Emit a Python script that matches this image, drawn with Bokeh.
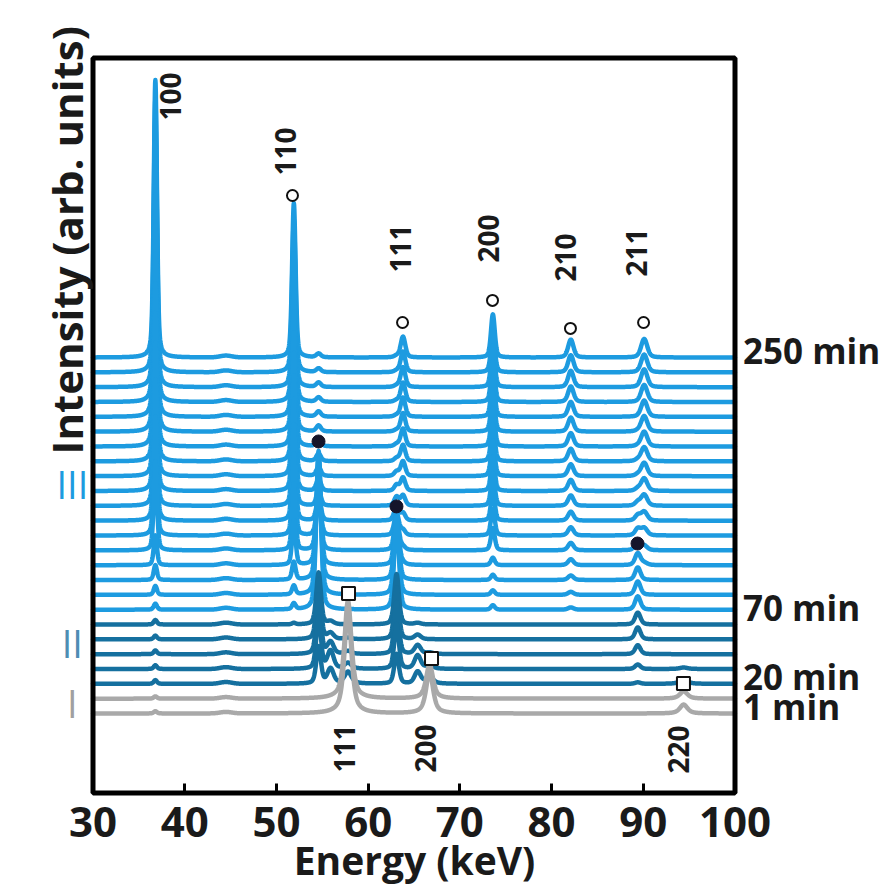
import numpy as np
from bokeh.plotting import figure
from bokeh.models import Range1d, FixedTicker, Label
from bokeh.core.properties import value
from bokeh.embed import file_html
from bokeh.resources import INLINE

FONT = "Open Sans"

# ------------------------------------------------------------------ data
x_ticks = [30, 40, 50, 60, 70, 80, 90, 100]
energy_lim = [30.0, 100.0]          # framed energy window (keV)
offset_lim = [-5.36, 44.19]         # framed intensity window (trace offsets)

# 25 spectra, index 0 = 1 min (bottom) ... 24 = 250 min (top); offset = index
trace_phase = ["I", "I", "II", "II", "II", "II", "II"] + ["III"] * 18
phase_colour = {"I": "#A9A9A9", "II": "#15709F", "III": "#1D9BE0"}

time_label_text = ["250 min", "70 min", "20 min", "1 min"]
time_label_y = [24.45, 7.15, 2.50, 0.45]

phase_label_text = ["III", "II", "I"]
phase_label_y = [15.50, 4.72, 0.74]
phase_label_colour = ["#1D9BE0", "#4E8DB3", "#A0A0A0"]

# peak centres (keV), widths (FWHM, keV), Lorentzian fraction
peak_centre = [36.8, 51.9, 63.8, 73.6, 82.1, 90.1,   # phase III (open circles)
               54.6, 63.1, 89.4,                      # phase II (filled circles)
               57.8, 66.7, 94.4,                      # phase I (squares)
               55.9, 65.4, 44.5]                      # shoulders / weak bump
peak_fwhm = [0.42, 0.45, 0.60, 0.50, 0.70, 0.80,
             0.60, 0.60, 0.70,
             0.90, 0.90, 1.00,
             0.80, 0.80, 1.50]
peak_eta = [0.4, 0.4, 0.4, 0.4, 0.4, 0.4,
            0.4, 0.4, 0.4,
            0.7, 0.7, 0.7,
            0.4, 0.4, 0.0]

# peak amplitudes per spectrum (index 0..24)
amp_368 = [0.15, 0.15, 0.25, 0.25, 0.25, 0.25, 0.3, 0.4, 0.6, 1.0, 2.0, 6.0, 8.0,
           9.5, 11.0, 12.0, 13.0, 14.0, 15.0, 16.0, 16.8, 17.5, 18.0, 18.4, 18.7]
amp_519 = [0, 0, 0, 0, 0, 0, 0.1, 0.4, 0.6, 1.2, 3.0, 4.5, 5.5,
           6.5, 7.2, 7.8, 8.3, 8.7, 9.1, 9.4, 9.7, 10.0, 10.2, 10.3, 10.4]
amp_638 = [0, 0, 0, 0, 0, 0, 0, 0, 0, 0, 0.1, 0.2, 0.35,
           0.5, 0.7, 0.9, 1.0, 1.1, 1.2, 1.25, 1.3, 1.3, 1.35, 1.4, 1.4]
amp_736 = [0, 0, 0, 0, 0, 0, 0, 0.3, 0.3, 0.35, 0.5, 1.5, 1.8,
           2.0, 2.2, 2.3, 2.4, 2.5, 2.6, 2.65, 2.7, 2.75, 2.8, 2.85, 2.9]
amp_821 = [0, 0, 0, 0, 0, 0, 0, 0.15, 0.2, 0.3, 0.4, 0.5, 0.55,
           0.6, 0.7, 0.75, 0.8, 0.85, 0.9, 0.95, 1.0, 1.05, 1.1, 1.15, 1.2]
amp_901 = [0, 0, 0, 0, 0, 0, 0, 0, 0, 0, 0.15, 0.3, 0.5,
           0.6, 0.75, 0.85, 0.9, 0.95, 1.0, 1.05, 1.1, 1.15, 1.2, 1.2, 1.25]
amp_546 = [0, 0, 2.5, 3.5, 4.0, 4.0, 3.5, 10.7, 9.5, 8.0, 6.0, 4.0, 2.5,
           1.5, 1.0, 0.8, 0.6, 0.5, 0.45, 0.4, 0.35, 0.3, 0.3, 0.25, 0.25]
amp_631 = [0, 0, 2.0, 3.0, 3.5, 3.5, 3.4, 6.2, 5.4, 4.5, 3.4, 2.3, 1.5,
           1.0, 0.6, 0.4, 0.3, 0.2, 0.15, 0.1, 0.1, 0.1, 0.1, 0.1, 0.1]
amp_894 = [0, 0, 0.1, 0.3, 0.6, 0.8, 0.8, 0.9, 0.9, 0.85, 0.8, 0.6, 0.45,
           0.35, 0.25, 0.15, 0.1, 0.1, 0.05, 0.05, 0, 0, 0, 0, 0]
amp_578 = [7.0, 6.6, 0.8, 0.4, 0.2, 0.1, 0, 0, 0, 0, 0, 0, 0,
           0, 0, 0, 0, 0, 0, 0, 0, 0, 0, 0, 0]
amp_667 = [2.8, 2.3, 0.5, 0.25, 0.1, 0, 0, 0, 0, 0, 0, 0, 0,
           0, 0, 0, 0, 0, 0, 0, 0, 0, 0, 0, 0]
amp_944 = [0.6, 0.5, 0.3, 0.1, 0, 0, 0, 0, 0, 0, 0, 0, 0,
           0, 0, 0, 0, 0, 0, 0, 0, 0, 0, 0, 0]
amp_559 = [0, 0, 1.0, 1.2, 0.8, 0.4, 0.2, 0, 0, 0, 0, 0, 0,
           0, 0, 0, 0, 0, 0, 0, 0, 0, 0, 0, 0]
amp_654 = [0, 0, 0.8, 0.9, 0.6, 0.3, 0.1, 0, 0, 0, 0, 0, 0,
           0, 0, 0, 0, 0, 0, 0, 0, 0, 0, 0, 0]
amp_445 = [0.1, 0.1, 0.12, 0.12, 0.12, 0.12, 0.12, 0.12, 0.12, 0.12, 0.12, 0.12, 0.12,
           0.12, 0.12, 0.12, 0.12, 0.12, 0.12, 0.12, 0.12, 0.12, 0.12, 0.12, 0.12]
peak_amps = [amp_368, amp_519, amp_638, amp_736, amp_821, amp_901,
             amp_546, amp_631, amp_894,
             amp_578, amp_667, amp_944,
             amp_559, amp_654, amp_445]

# markers (data coordinates)
open_circle_x = [51.75, 63.75, 73.56, 82.06, 90.03]
open_circle_y = [34.92, 26.36, 27.85, 25.96, 26.36]
filled_circle_x = [54.59, 63.09, 89.37]
filled_circle_y = [18.34, 13.96, 11.46]
square_x = [57.86, 66.91, 94.38]
square_y = [8.09, 3.71, 2.02]

# reflection labels
top_label_text = ["100", "110", "111", "200", "210", "211"]
top_label_x = [38.45, 50.99, 63.53, 73.12, 81.52, 89.26]
top_label_y = [39.98, 36.27, 29.73, 30.40, 29.12, 29.46]
bottom_label_text = ["111", "200", "220"]
bottom_label_x = [57.42, 66.26, 93.84]
bottom_label_y = [-3.98, -3.98, -4.05]

# ------------------------------------------------------------------ figure
W, H = 885, 891
BOX_LEFT_PX, BOX_RIGHT_PX = 92.5, 734.5      # canvas px of the framed window
BOX_BOTTOM_PX = 792.5
kev_px = (BOX_RIGHT_PX - BOX_LEFT_PX) / (energy_lim[1] - energy_lim[0])
off_px = 14.833
x0 = energy_lim[0] - BOX_LEFT_PX / kev_px
x1 = x0 + W / kev_px
y0 = offset_lim[0] - (H - BOX_BOTTOM_PX) / off_px
y1 = y0 + H / off_px

p = figure(width=W, height=H, output_backend="svg", toolbar_location=None,
           x_range=Range1d(x0, x1), y_range=Range1d(y0, y1),
           y_axis_location=None, min_border=0, min_border_left=0, min_border_right=0,
           min_border_top=0, min_border_bottom=0)
p.grid.visible = False
p.outline_line_color = None
p.background_fill_color = "white"
p.border_fill_color = "white"

ax = p.xaxis[0]
ax.fixed_location = offset_lim[0]
ax.bounds = (energy_lim[0], energy_lim[1])
ax.ticker = FixedTicker(ticks=x_ticks)
ax.axis_line_color = None
ax.major_tick_in = 10
ax.major_tick_out = 0
ax.major_tick_line_width = 3
ax.major_tick_line_color = "black"
ax.minor_tick_line_color = None
ax.major_label_text_font = FONT
ax.major_label_text_font_style = "bold"
ax.major_label_text_font_size = "42px"
ax.major_label_text_color = "#1a1a1a"
ax.major_label_standoff = 14
ax.axis_label = "Energy (keV)"
ax.axis_label_text_font = FONT
ax.axis_label_text_font_style = "bold"
ax.axis_label_text_font_size = "39px"
ax.axis_label_text_color = "#1a1a1a"
ax.axis_label_standoff = -8

energy = np.arange(energy_lim[0], energy_lim[1] + 0.0001, 0.025)


def pseudo_voigt(x, c, w, eta):
    d = (x - c) / (w / 2.0)
    lor = 1.0 / (1.0 + d * d)
    gau = np.exp(-np.log(2.0) * d * d)
    return eta * lor + (1.0 - eta) * gau


profiles = [pseudo_voigt(energy, c, w, e) for c, w, e in zip(peak_centre, peak_fwhm, peak_eta)]

for i in reversed(range(len(trace_phase))):
    y = np.full_like(energy, float(i))
    for prof, amps in zip(profiles, peak_amps):
        if amps[i]:
            y = y + amps[i] * prof
    p.line(energy, y, line_color=phase_colour[trace_phase[i]], line_width=4.5,
           line_join="round", line_cap="round")

p.scatter(open_circle_x, open_circle_y, marker="circle", size=11,
          fill_color="white", line_color="#111111", line_width=2)
p.scatter(filled_circle_x, filled_circle_y, marker="circle", size=13,
          fill_color="#15152a", line_color="#15152a", line_width=1)
p.scatter(square_x, square_y, marker="square", size=13,
          fill_color="white", line_color="#111111", line_width=2)

p.text(top_label_x, top_label_y, text=top_label_text, angle=np.pi / 2,
       text_font=value(FONT), text_font_style="bold", text_font_size="28px",
       text_align="left", text_baseline="middle", text_color="#1a1a1a")
p.text(bottom_label_x, bottom_label_y, text=bottom_label_text, angle=np.pi / 2,
       text_font=value(FONT), text_font_style="bold", text_font_size="28px",
       text_align="left", text_baseline="middle", text_color="#1a1a1a")

# black frame round the energy window
p.quad(left=[energy_lim[0]], right=[energy_lim[1]], bottom=[offset_lim[0]], top=[offset_lim[1]],
       fill_color=None, line_color="black", line_width=5)

time_x = energy_lim[1] + 8.0 / kev_px
for t, yy in zip(time_label_text, time_label_y):
    p.add_layout(Label(x=time_x, y=yy, text=t, text_font=FONT, text_font_style="bold",
                       text_font_size="35px", text_align="left", text_baseline="middle",
                       text_color="#1a1a1a"))

for t, yy, col in zip(phase_label_text, phase_label_y, phase_label_colour):
    p.add_layout(Label(x=27.75, y=yy, text=t, text_font=FONT, text_font_size="38px",
                       text_align="center", text_baseline="middle", text_color=col))

p.add_layout(Label(x=27.15, y=31.9, text="Intensity (arb. units)", angle=np.pi / 2,
                   text_font=FONT, text_font_style="bold", text_font_size="42px",
                   text_align="center", text_baseline="alphabetic", text_color="#1a1a1a"))

open("out.html", "w").write(file_html(p, INLINE))
